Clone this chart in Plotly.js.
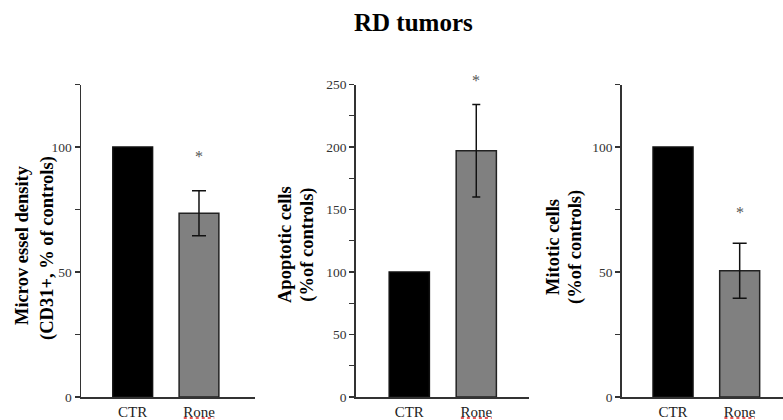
<!DOCTYPE html>
<html>
<head>
<meta charset="utf-8">
<script src="https://cdn.plot.ly/plotly-3.0.1.min.js"></script>
<style>html,body{margin:0;padding:0;background:#fff;}#chart{width:783px;height:420px;}</style>
</head>
<body>
<div id="chart"></div>
<script>
const categories = ['CTR', 'Rone'];
const microvessel = [100, 73.5];
const microvesselErr = [0, 9];
const apoptotic = [100, 197];
const apoptoticErr = [0, 37];
const mitotic = [100, 50.5];
const mitoticErr = [0, 11];
const starY = [96, 253, 74];
const yTickVals1 = [0, 25, 50, 75, 100, 125];
const yTickText1 = ['0', '', '50', '', '100', ''];
const yTickVals2 = [0, 25, 50, 75, 100, 125, 150, 175, 200, 225, 250];
const yTickText2 = ['0', '', '50', '', '100', '', '150', '', '200', '', '250'];
const title = 'RD tumors';
const yTitles = [
  ['Microv essel density', '(CD31+, % of controls)'],
  ['Apoptotic cells', '(%of controls)'],
  ['Mitotic cells', '(%of controls)']
];

const serif = 'Liberation Serif, Times New Roman, serif';
const yDomain = [23 / 420, 1 - 84.5 / 420];
const panels = [
  {vals: microvessel, err: microvesselErr, xa: 'x', ya: 'y', cap: 7, ymax: 125},
  {vals: apoptotic, err: apoptoticErr, xa: 'x2', ya: 'y2', cap: 4, ymax: 250},
  {vals: mitotic, err: mitoticErr, xa: 'x3', ya: 'y3', cap: 7, ymax: 125}
];

const traces = [];
panels.forEach(p => {
  traces.push({
    type: 'bar', x: [categories[0]], y: [p.vals[0]], xaxis: p.xa, yaxis: p.ya,
    width: 0.6, marker: {color: '#000000', line: {color: '#111', width: 1.5}},
    hoverinfo: 'none', showlegend: false
  });
  traces.push({
    type: 'bar', x: [categories[1]], y: [p.vals[1]], xaxis: p.xa, yaxis: p.ya,
    width: 0.6, marker: {color: '#808080', line: {color: '#222', width: 1.5}},
    error_y: {type: 'data', array: [p.err[1]], visible: true, color: '#111', thickness: 1.5, width: p.cap},
    hoverinfo: 'none', showlegend: false
  });
});

function xax(domain, range, anchor) {
  return {
    domain: domain, range: range, type: 'category', anchor: anchor,
    showline: true, linecolor: '#333', linewidth: 1.5, ticks: '', showgrid: false, zeroline: false,
    tickfont: {family: serif, size: 15, color: '#222'}, fixedrange: true
  };
}
function yax(range, vals, text, anchor) {
  return {
    domain: yDomain, range: range, anchor: anchor,
    tickvals: vals, ticktext: text, ticks: 'outside', ticklen: 5, tickwidth: 1.2, tickcolor: '#333',
    showline: true, linecolor: '#333', linewidth: 1.5, showgrid: false, zeroline: false,
    tickfont: {family: serif, size: 13.5, color: '#333'}, fixedrange: true
  };
}

const annotations = [];
annotations.push({
  text: '<b>' + title + '</b>', xref: 'paper', yref: 'paper', x: 413 / 783, y: 1 - 22 / 420,
  xanchor: 'center', yanchor: 'middle', showarrow: false, font: {family: serif, size: 25, color: '#000'}
});
const titlePos = [
  [[22, 245], [47, 248]],
  [[285, 245], [306.7, 245]],
  [[553, 247], [575, 247]]
];
yTitles.forEach((lines, i) => {
  lines.forEach((ln, j) => {
    annotations.push({
      text: '<b>' + ln + '</b>', xref: 'paper', yref: 'paper',
      x: titlePos[i][j][0] / 783, y: 1 - titlePos[i][j][1] / 420,
      xanchor: 'center', yanchor: 'middle', textangle: -90, showarrow: false,
      font: {family: serif, size: 18.5, color: '#000'}
    });
  });
});
panels.forEach((p, i) => {
  // star position expressed on the paper via the panel's y scale (may lie above the axis top)
  const py = yDomain[0] + (starY[i] / p.ymax) * (yDomain[1] - yDomain[0]);
  annotations.push({
    text: '*', xref: p.xa, yref: 'paper', x: categories[1], y: py,
    xanchor: 'center', yanchor: 'middle', showarrow: false,
    font: {family: serif, size: 16, color: '#555'}
  });
});

const shapes = panels.map(p => ({
  type: 'line', xref: p.xa, yref: 'paper', x0: 0.77, x1: 1.23, y0: 2 / 420, y1: 2 / 420,
  line: {color: '#e02020', width: 1.5, dash: 'dot'}
}));

const layout = {
  width: 783, height: 420,
  margin: {l: 0, r: 0, t: 0, b: 0},
  paper_bgcolor: '#ffffff', plot_bgcolor: '#ffffff',
  barmode: 'overlay',
  showlegend: false,
  xaxis: xax([81 / 783, 255 / 783], [-0.78, 1.845], 'y'),
  yaxis: yax([0, 125], yTickVals1, yTickText1, 'x'),
  xaxis2: xax([355.7 / 783, 529 / 783], [-0.8, 1.787], 'y2'),
  yaxis2: yax([0, 250], yTickVals2, yTickText2, 'x2'),
  xaxis3: xax([621.7 / 783, 1], [-0.77, 1.65], 'y3'),
  yaxis3: yax([0, 125], yTickVals1, yTickText1, 'x3'),
  annotations: annotations,
  shapes: shapes
};

Plotly.newPlot('chart', traces, layout, {displayModeBar: false, staticPlot: true});
</script>
</body>
</html>
